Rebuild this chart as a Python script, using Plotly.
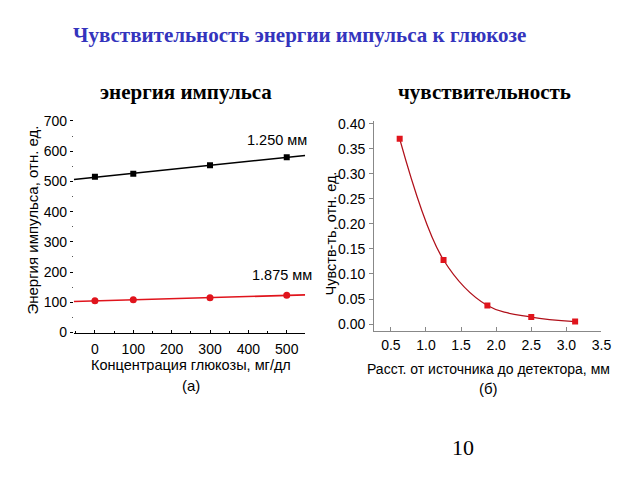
import numpy as np
import plotly.graph_objects as go

# ---- data ----
glucose = [0, 100, 300, 500]
energy_1250 = [515, 525, 553, 580]
energy_1875 = [105, 108, 115, 123]
label_1250 = "1.250 мм"
label_1875 = "1.875 мм"

distance = [0.625, 1.25, 1.875, 2.5, 3.125]
sensitivity = [0.37, 0.128, 0.037, 0.014, 0.005]

left_xticks = [0, 100, 200, 300, 400, 500]
left_yticks = [0, 100, 200, 300, 400, 500, 600, 700]
right_xticks = [0.5, 1.0, 1.5, 2.0, 2.5, 3.0, 3.5]
right_yticks = [0.0, 0.05, 0.10, 0.15, 0.20, 0.25, 0.30, 0.35, 0.40]

title = "Чувствительность энергии импульса к глюкозе"
sub_left = "энергия импульса"
sub_right = "чувствительность"
page_no = "10"

W, H = 640, 480
left_xrange = [-55, 548]
left_yrange = [0, 702]
right_xrange = [0.26, 3.5]
right_yrange = [-0.013, 0.405]

def px(x):
    return x / W

def py(y):
    return 1 - y / H

fig = go.Figure()

sans = "Liberation Sans, Arial, sans-serif"
serif = "Liberation Serif, Times New Roman, serif"
red = "#e0141c"

# fitted lines for left panel
xfit = np.array(left_xrange, dtype=float)
for vals, col in [(energy_1250, "black"), (energy_1875, red)]:
    k, b = np.polyfit(glucose, vals, 1)
    fig.add_trace(go.Scatter(x=xfit, y=k * xfit + b, mode="lines",
                             line=dict(color=col, width=1.6),
                             xaxis="x", yaxis="y", showlegend=False, hoverinfo="skip"))

fig.add_trace(go.Scatter(x=glucose, y=energy_1250, mode="markers",
                         marker=dict(symbol="square", size=6, color="black"),
                         xaxis="x", yaxis="y", showlegend=False))
fig.add_trace(go.Scatter(x=glucose, y=energy_1875, mode="markers",
                         marker=dict(symbol="circle", size=7, color=red),
                         xaxis="x", yaxis="y", showlegend=False))

# right panel
fig.add_trace(go.Scatter(x=distance, y=sensitivity, mode="lines",
                         line=dict(color="#b0101a", width=1.3, shape="spline", smoothing=1.0),
                         xaxis="x2", yaxis="y2", showlegend=False))
fig.add_trace(go.Scatter(x=distance, y=sensitivity, mode="markers",
                         marker=dict(symbol="square", size=6, color=red),
                         xaxis="x2", yaxis="y2", showlegend=False))

tickfont = dict(family=sans, size=14, color="black")

fig.update_layout(
    width=W, height=H,
    margin=dict(l=0, r=0, t=0, b=0),
    paper_bgcolor="white", plot_bgcolor="white",
    showlegend=False,
    xaxis=dict(domain=[px(75), px(310)], range=left_xrange, anchor="y",
               showline=True, linecolor="black", linewidth=1,
               tickmode="array", tickvals=left_xticks, ticks="inside", ticklen=3,
               tickcolor="black", tickfont=tickfont, showgrid=False, zeroline=False,
               ticklabelstandoff=4,
               minor=dict(tickmode="array", tickvals=[-50, 50, 150, 250, 350, 450],
                          ticks="inside", ticklen=2, tickcolor="black")),
    yaxis=dict(domain=[py(336), py(117)], range=left_yrange, anchor="x",
               showline=False, tickmode="array", tickvals=left_yticks,
               ticks="outside", ticklen=3, tickcolor="black", tickfont=tickfont,
               showgrid=False, zeroline=False, ticklabelstandoff=0,
               minor=dict(tickmode="array", tickvals=[50, 150, 250, 350, 450, 550, 650],
                          ticks="outside", ticklen=1, tickcolor="#555")),
    xaxis2=dict(domain=[px(380), px(611)], range=right_xrange, anchor="y2",
                showline=True, linecolor="#888", linewidth=1,
                tickmode="array", tickvals=right_xticks, ticktext=[f"{v:.1f}" for v in right_xticks],
                ticks="inside", ticklen=4, tickcolor="#888", tickfont=tickfont,
                showgrid=False, zeroline=False, ticklabelstandoff=2),
    yaxis2=dict(domain=[py(334), py(118)], range=right_yrange, anchor="x2",
                showline=True, linecolor="#888", linewidth=1,
                tickmode="array", tickvals=right_yticks, ticktext=[f"{v:.2f}" for v in right_yticks],
                ticks="outside", ticklen=4, tickcolor="#888", tickfont=tickfont,
                showgrid=False, zeroline=False, ticklabelstandoff=1),
)

ann = []
ann.append(dict(text=f"<b>{title}</b>", x=px(304), y=py(29), xref="paper", yref="paper",
                showarrow=False, font=dict(family=serif, size=21, color="#3434bd"),
                xanchor="center", yanchor="middle"))
ann.append(dict(text=f"<b>{sub_left}</b>", x=px(189), y=py(88), xref="paper", yref="paper",
                showarrow=False, font=dict(family=serif, size=21, color="black"),
                xanchor="center", yanchor="middle"))
ann.append(dict(text=f"<b>{sub_right}</b>", x=px(492), y=py(88), xref="paper", yref="paper",
                showarrow=False, font=dict(family=serif, size=21, color="black"),
                xanchor="center", yanchor="middle"))
ann.append(dict(text=page_no, x=px(470), y=py(455), xref="paper", yref="paper",
                showarrow=False, font=dict(family=serif, size=22, color="black"),
                xanchor="center", yanchor="middle"))
# axis titles
ann.append(dict(text="Энергия импульса, отн. ед.", x=px(33), y=py(220), xref="paper", yref="paper",
                showarrow=False, textangle=-90, font=dict(family=sans, size=15, color="black"),
                xanchor="center", yanchor="middle"))
ann.append(dict(text="Концентрация глюкозы, мг/дл", x=px(194), y=py(370), xref="paper", yref="paper",
                showarrow=False, font=dict(family=sans, size=14.5, color="black"),
                xanchor="center", yanchor="middle"))
ann.append(dict(text="(a)", x=px(194), y=py(391), xref="paper", yref="paper",
                showarrow=False, font=dict(family=sans, size=15, color="black"),
                xanchor="center", yanchor="middle"))
ann.append(dict(text="Чувств-ть, отн. ед.", x=px(336), y=py(234), xref="paper", yref="paper",
                showarrow=False, textangle=-90, font=dict(family=sans, size=14.5, color="black"),
                xanchor="center", yanchor="middle"))
ann.append(dict(text="Расст. от источника до детектора, мм", x=px(496), y=py(374), xref="paper", yref="paper",
                showarrow=False, font=dict(family=sans, size=14, color="black"),
                xanchor="center", yanchor="middle"))
ann.append(dict(text="(б)", x=px(496), y=py(394), xref="paper", yref="paper",
                showarrow=False, font=dict(family=sans, size=15, color="black"),
                xanchor="center", yanchor="middle"))
# series labels (data coords)
ann.append(dict(text=label_1250, x=475, y=638, xref="x", yref="y", showarrow=False,
                font=dict(family=sans, size=14.5, color="black"), xanchor="center", yanchor="middle"))
ann.append(dict(text=label_1875, x=487, y=190, xref="x", yref="y", showarrow=False,
                font=dict(family=sans, size=14.5, color="black"), xanchor="center", yanchor="middle"))
fig.update_layout(annotations=ann)

fig.write_html("out.html")
